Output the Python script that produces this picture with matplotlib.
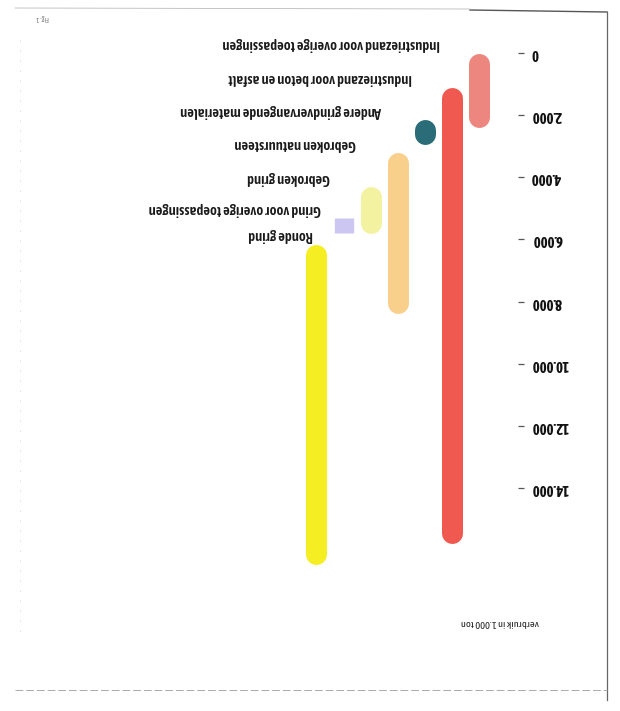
import matplotlib
matplotlib.use("Agg")
import matplotlib.pyplot as plt
import numpy as np
from matplotlib.lines import Line2D

# ---- data (thousand tonnes), chart shown rotated 180 degrees as in the scan ----
categories = [
    "Industriezand voor overige toepassingen",
    "Industriezand voor beton en asfalt",
    "Andere grindvervangende materialen",
    "Gebroken natuursteen",
    "Gebroken grind",
    "Grind voor overige toepassingen",
    "Ronde grind",
]
bar_start = [0, 1100, 2150, 3200, 4300, 5300, 6150]
bar_end = [2400, 15800, 2950, 8400, 5800, 5800, 16450]
colors = ["#EC867E", "#F0594F", "#2A6C78", "#F9CF8C", "#F3F2A0", "#CBC6F2", "#F4EE22"]
yticks = [0, 2000, 4000, 6000, 8000, 10000, 12000, 14000]
ytick_labels = ["0", "2.000", "4.000", "6.000", "8.000", "10.000", "12.000", "14.000"]
axis_title = "verbruik in 1.000 ton"

FONT = ["Asap Condensed", "Archivo Narrow", "Liberation Sans", "DejaVu Sans"]

W, H, DPI = 620, 711, 100
fig = plt.figure(figsize=(W / DPI, H / DPI), dpi=DPI)
fig.patch.set_facecolor("white")

# axes box in pixels
L, R, T, B = 280, 518, 40, 600
ax = fig.add_axes([L / W, 1 - B / H, (R - L) / W, (B - T) / H])
ax.set_facecolor("none")

# x: category index, increasing to the left (rotated chart)
px_per_cat = 27.1
x0_px = 479
ax.set_xlim((x0_px - L) / px_per_cat, (x0_px - R) / px_per_cat)
# y: value increases downward
px_per_val = 0.03107
y0_px = 53
ax.set_ylim((B - y0_px) / px_per_val, (T - y0_px) / px_per_val)

for s in ax.spines.values():
    s.set_visible(False)
ax.set_xticks([])
ax.yaxis.tick_right()
ax.set_yticks(yticks)
ax.set_yticklabels(ytick_labels)
ax.tick_params(axis="y", length=4, width=0.9, color="#555555", pad=6,
               labelsize=10.5, labelcolor="#111111")
for lab in ax.get_yticklabels():
    lab.set_rotation(180)
    lab.set_fontfamily(FONT)
    lab.set_fontweight("bold")
    lab.set_ha("left")
    lab.set_va("center")

# rounded bars as thick lines with round caps
bar_px = 21
lw_pt = bar_px * 72 / DPI
cap_val = (bar_px / 2) / px_per_val
xs = np.arange(len(categories))
for x, s, e, c in zip(xs, bar_start, bar_end, colors):
    if (e - s) > 2 * cap_val:
        ax.add_line(Line2D([x, x], [s + cap_val, e - cap_val], lw=lw_pt, color=c,
                           solid_capstyle="round", zorder=3))
    elif (e - s) > 1.0 * bar_px / px_per_val:
        mid = (s + e) / 2
        ax.add_line(Line2D([x, x], [mid - 1, mid + 1], lw=lw_pt, color=c,
                           solid_capstyle="round", zorder=3))
    else:
        ax.add_line(Line2D([x, x], [s, e], lw=lw_pt * 0.92, color=c,
                           solid_capstyle="butt", zorder=3))

# category labels (upside down), sitting just before each bar's start
label_x = [1.44, 2.47, 3.58, 4.54, 5.50, 5.83, 6.13]
label_gap = 280
for lx, s, name in zip(label_x, bar_start, categories):
    ax.text(lx, s - label_gap, name, rotation=180, ha="right", va="center",
            fontsize=10.5, color="#1a1a1a", fontweight=600,
            family=FONT, zorder=4)

# axis title (upside down)
fig.text(500 / W, 1 - 622 / H, axis_title, rotation=180, ha="center", va="center",
         fontsize=7.5, color="#222222", family=FONT)
fig.text(42 / W, 1 - 18 / H, "Fig. 1", rotation=180, ha="center", va="center",
         fontsize=5, color="#777777", family=FONT)

# scan frame
frame = fig.add_axes([0, 0, 1, 1])
frame.set_xlim(0, W)
frame.set_ylim(H, 0)
frame.axis("off")
frame.set_zorder(-1)
frame.plot([607, 607], [12, 700], color="#666666", lw=0.9)
frame.plot([470, 607], [10, 12], color="#555555", lw=1.0)
frame.plot([15, 470], [8, 9], color="#bbbbbb", lw=0.6)
frame.plot([15, 607], [690, 690], color="#aaaaaa", lw=0.7, ls=(0, (8, 3)))
frame.plot([20, 20], [40, 640], color="#dddddd", lw=0.6, ls=(0, (2, 10)))

fig.savefig("out.png", dpi=DPI, facecolor="white")
